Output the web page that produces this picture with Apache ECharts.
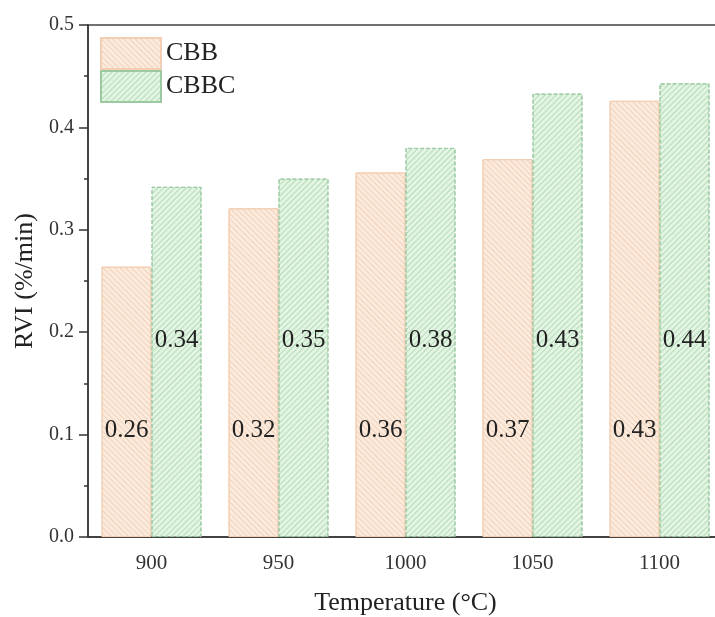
<!DOCTYPE html>
<html>
<head>
<meta charset="utf-8">
<script src="https://cdn.jsdelivr.net/npm/echarts@6/dist/echarts.min.js"></script>
<style>
  html, body { margin: 0; padding: 0; background: #fff; }
  #chart { width: 715px; height: 617px; }
</style>
</head>
<body>
<div id="chart"></div>
<script>
// 温度类别与两组RVI数据
const temperatures = ['900', '950', '1000', '1050', '1100'];
const cbbValues = [0.264, 0.321, 0.356, 0.369, 0.426];
const cbbcValues = [0.342, 0.350, 0.380, 0.433, 0.443];
const cbbLabels = ['0.26', '0.32', '0.36', '0.37', '0.43'];
const cbbcLabels = ['0.34', '0.35', '0.38', '0.43', '0.44'];
const yTicks = [0, 0.1, 0.2, 0.3, 0.4, 0.5];

const font = 'Liberation Serif';
const axisColor = '#333';

let myChart = echarts.init(document.getElementById('chart'));

function makeSeries(name, values, labels, fill, hatch, border, borderType, rot, labelDist) {
  return {
    name: name,
    type: 'bar',
    data: values,
    barWidth: 50,
    barGap: '0%',
    itemStyle: {
      color: fill,
      borderColor: border,
      borderWidth: 1,
      borderType: borderType,
      decal: {
        symbol: 'rect',
        symbolSize: 1,
        dashArrayX: [1, 0],
        dashArrayY: [1, 3],
        rotation: rot,
        color: hatch
      }
    },
    label: {
      show: true,
      position: 'insideBottom',
      distance: labelDist,
      fontFamily: font,
      fontSize: 25,
      color: '#222',
      formatter: function (p) { return labels[p.dataIndex]; }
    }
  };
}

let option = {
  backgroundColor: '#fff',
  animation: false,
  grid: {
    left: 88, top: 25, width: 635, bottom: 80,
    outerBoundsMode: 'none',
    show: true, borderColor: '#444', borderWidth: 1.5, backgroundColor: 'transparent'
  },
  legend: {
    orient: 'vertical',
    left: 95,
    top: 32,
    icon: 'rect',
    itemWidth: 60,
    itemHeight: 31,
    itemGap: 0,
    textStyle: { fontFamily: font, fontSize: 26, color: '#222' },
    data: ['CBB', 'CBBC']
  },
  xAxis: [{
    type: 'category',
    data: temperatures,
    name: 'Temperature (\u00B0C)',
    nameLocation: 'middle',
    nameGap: 53,
    nameTextStyle: { fontFamily: font, fontSize: 26, color: '#222' },
    axisLine: { lineStyle: { color: axisColor, width: 1.5 } },
    axisTick: { alignWithLabel: true, length: 8, lineStyle: { color: axisColor, width: 1.5 } },
    axisLabel: { fontFamily: font, fontSize: 21, color: '#333', margin: 16 }
  }, {
    // 类别边界的小刻度
    type: 'category',
    data: temperatures,
    position: 'bottom',
    axisLine: { show: false },
    axisTick: { alignWithLabel: false, length: 4, lineStyle: { color: axisColor, width: 1.5 } },
    axisLabel: { show: false }
  }],
  yAxis: {
    type: 'value',
    min: 0,
    max: 0.5,
    interval: 0.1,
    name: 'RVI (%/min)',
    nameLocation: 'middle',
    nameGap: 47,
    nameTextStyle: { fontFamily: font, fontSize: 26, color: '#222' },
    axisLine: { show: true, lineStyle: { color: axisColor, width: 1.5 } },
    axisTick: { show: true, length: 9, lineStyle: { color: axisColor, width: 1.5 } },
    minorTick: { show: true, splitNumber: 2, length: 4, lineStyle: { color: axisColor, width: 1.5 } },
    splitLine: { show: false },
    axisLabel: {
      fontFamily: font, fontSize: 20, color: '#333', margin: 14,
      formatter: function (v) { return yTicks.indexOf(Math.round(v * 10) / 10) >= 0 ? v.toFixed(1) : ''; }
    }
  },
  series: [
    makeSeries('CBB', cbbValues, cbbLabels, '#fcebdc', 'rgba(230,190,160,0.55)', '#f2cfb4', 'solid', Math.PI / 4, 94),
    makeSeries('CBBC', cbbcValues, cbbcLabels, '#e3f4e3', 'rgba(140,200,150,0.55)', '#9cc9a2', 'dashed', -Math.PI / 4, 184)
  ]
};

myChart.setOption(option, true);
</script>
</body>
</html>
